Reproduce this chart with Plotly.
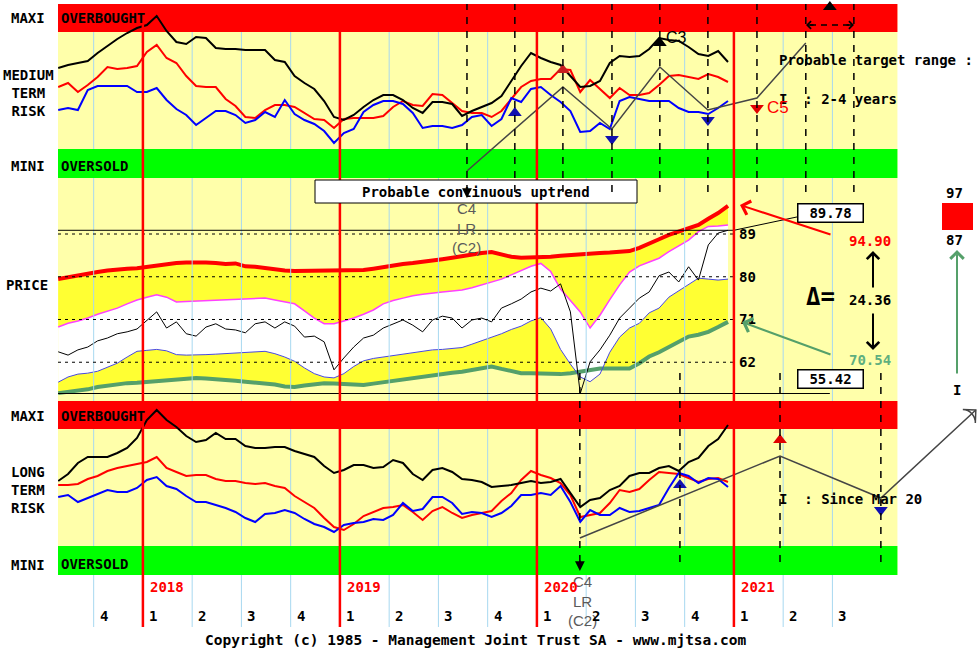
import numpy as np
import plotly.graph_objects as go

# ---------------- DATA ----------------
# time grid (decimal years)
grid_start = 2017.57
grid_step = 0.05
t = np.round(grid_start + grid_step * np.arange(69), 3)

# Medium term risk (arbitrary risk units, 0 = bottom of panel)
medium_black = [110,113,115,117,125,132,139,145,150,153,162,147,136,134,141,140,130,129,129,128,
                128,128,118,116,102,95,89,77,61,58,63,71,78,83,83,78,70,65,76,76,
                74,62,67,71,75,82,97,112,125,120,116,113,102,91,92,97,115,122,121,122,
                129,140,138,137,131,124,122,127,116]
medium_red = [91,95,86,93,101,111,109,110,112,126,133,120,115,102,92,91,91,79,72,61,
              60,68,73,73,71,65,59,58,50,59,60,60,60,62,71,77,73,72,84,83,
              75,67,65,65,61,67,79,91,97,99,99,109,108,86,98,89,80,90,83,83,
              85,93,102,103,101,99,104,101,96]
medium_blue = [68,70,68,88,92,92,92,92,86,86,90,78,69,63,53,60,67,67,63,55,
               58,66,61,78,64,58,54,47,35,45,49,66,73,77,77,74,65,50,52,52,
               50,53,61,63,52,59,80,76,89,91,83,76,67,46,47,55,49,77,81,79,
               77,77,77,70,66,66,64,70,77]

# Long term risk
long_black = [94,101,112,118,118,118,122,127,137,155,165,155,148,139,133,135,142,136,136,129,
              127,127,128,128,124,121,118,109,102,105,110,110,107,108,115,112,101,95,105,107,
              103,96,95,93,88,89,90,92,94,92,93,96,82,68,75,77,85,89,99,102,
              102,107,109,104,113,117,129,136,150]
long_red = [90,90,91,96,99,104,107,109,111,113,118,107,103,99,100,100,96,94,94,92,
            91,92,89,87,79,73,67,57,48,45,51,59,63,67,68,70,63,55,64,68,
            62,57,60,62,64,74,82,95,104,100,97,92,80,58,60,62,72,85,83,86,
            95,103,102,101,97,93,96,97,93]
long_blue = [78,80,73,77,81,85,83,83,87,95,98,89,86,79,73,73,70,67,63,57,
             53,61,62,65,62,56,51,48,43,50,52,53,56,55,60,72,64,66,78,78,
             72,61,63,62,58,62,69,80,80,82,80,89,73,53,65,60,60,67,63,64,
             67,70,87,102,99,92,97,96,88]

# Price panel
price = [64.2,63.5,64.6,65.2,66.5,67.1,68.0,68.4,69.0,70.9,72.6,69.2,70.5,68.0,67.5,69.4,70.1,69.0,68.8,68.2,
         70.1,70.5,69.2,70.5,69.6,67.3,67.5,66.3,60.4,62.9,65.2,67.1,67.7,69.2,70.1,70.9,69.8,68.4,70.9,71.7,
         71.3,69.2,70.9,71.3,70.5,73.4,74.3,75.3,76.8,77.6,77.0,78.5,72.6,55.42,62.1,64.6,67.7,71.3,73.4,75.5,
         76.8,80.2,81.0,78.9,82.1,79.3,86.7,89.2,89.78]
band_upper = [79.5,79.9,80.4,80.7,81.0,81.3,81.6,81.7,81.8,82.1,82.3,82.6,82.9,83.0,83.1,83.0,82.9,82.7,82.8,82.2,
              82.1,81.8,81.5,81.3,81.2,81.2,81.2,81.2,81.2,81.3,81.4,81.4,81.7,82.1,82.4,82.7,82.9,83.1,83.4,83.7,
              84.0,84.4,84.6,85.0,85.2,84.7,84.2,84.0,84.0,84.0,84.2,84.4,84.6,84.7,84.9,85.0,85.1,85.3,85.4,86.1,
              86.9,87.9,88.8,89.5,90.3,90.9,92.2,93.4,94.9]
band_mid_hi = [69.4,70.2,70.7,71.3,72.1,72.8,73.4,74.3,75.1,75.7,76.2,75.7,74.7,74.8,74.9,75.0,75.1,75.2,75.3,75.4,
               75.5,75.5,75.1,74.7,74.3,72.8,71.3,70.1,70.1,70.7,71.3,72.1,73.0,74.3,75.0,75.5,76.0,76.3,76.6,76.8,
               77.0,77.2,77.7,78.3,78.8,79.5,80.4,81.3,82.2,82.8,81.1,77.4,75.1,72.6,69.2,71.9,75.2,78.3,81.0,82.3,
               83.1,83.9,85.3,86.5,87.7,89.5,90.6,90.7,90.9]
band_mid_lo = [57.8,58.9,59.5,59.7,60.1,61.0,61.8,63.1,64.3,64.5,64.7,64.4,63.6,63.5,63.5,63.6,63.7,63.8,64.0,64.1,
               64.2,64.3,63.8,63.1,62.2,60.8,59.6,58.9,58.7,59.6,61.1,62.3,62.8,63.1,63.3,63.6,64.0,64.3,64.6,64.7,
               64.9,65.1,65.8,66.5,67.3,68.0,68.9,69.6,70.7,71.4,69.0,64.7,61.6,58.9,57.9,59.5,64.1,67.3,69.2,70.2,
               72.4,73.4,75.7,77.0,78.4,79.7,79.5,79.3,79.5]
band_lower = [55.5,55.7,55.9,56.3,56.8,57.1,57.4,57.6,57.7,57.9,58.1,58.3,58.5,58.6,58.7,58.6,58.5,58.3,58.1,57.9,
              57.7,57.6,57.3,56.9,56.8,57.1,57.4,57.6,57.5,57.4,57.3,57.2,57.5,57.8,58.1,58.5,58.8,59.1,59.3,59.6,
              59.8,60.0,60.3,60.6,61.1,60.6,60.1,59.7,59.7,59.6,59.6,59.5,59.7,60.1,60.4,60.7,60.7,60.7,60.7,61.8,
              63.2,64.1,65.2,66.5,67.4,67.8,68.4,69.4,70.5]

price_levels = [62, 71, 80, 89]
last_price = 89.78
min_price = 55.42
target_high = "94.90"
target_low = "70.54"
target_delta = "24.36"
scale_high = "97"
scale_low = "87"

# cycles
medium_cycles = [2019.645, 2019.888, 2020.132, 2020.381, 2020.624, 2020.868, 2021.117, 2021.365, 2021.609]
medium_zig_x = [2019.645, 2020.132, 2020.381, 2020.624, 2020.868, 2021.117, 2021.365]
medium_zig_y = [7, 91, 49, 111, 68, 80, 135]
medium_mark_x = [2019.888, 2020.132, 2020.381, 2020.624, 2020.868, 2021.117, 2021.487]
medium_mark_y = [65, 108, 39, 135, 58, 70, 171]
medium_mark_sym = ["triangle-up", "triangle-up", "triangle-down", "triangle-up", "triangle-down", "triangle-down", "triangle-up"]
medium_mark_col = ["#1010B0", "#C81E1E", "#1010B0", "#000000", "#1010B0", "#E00000", "#000000"]

long_cycles = [2020.218, 2020.726, 2021.234, 2021.746]
long_zig_x = [2020.218, 2021.234, 2021.746, 2022.228]
long_zig_y = [37, 119, 77, 165]
long_mark_x = [2020.726, 2021.234, 2021.746]
long_mark_y = [90, 135, 65]
long_mark_sym = ["triangle-up", "triangle-up", "triangle-down"]
long_mark_col = ["#1010B0", "#E00000", "#1010B0"]

years = [2018, 2019, 2020, 2021]
quarter_starts = [2017.75, 2018.0, 2018.25, 2018.5, 2018.75, 2019.0, 2019.25, 2019.5, 2019.75,
                  2020.0, 2020.25, 2020.5, 2020.75, 2021.0, 2021.25, 2021.5]
quarter_labels = ["4", "1", "2", "3", "4", "1", "2", "3", "4", "1", "2", "3", "4", "1", "2", "3"]

# ---------------- LAYOUT ----------------
W, H = 979, 652
ML, MR, MT, MB = 58, 0, 4, 77
PW, PH = W - ML - MR, H - MT - MB
X_MIN, X_MAX = 2017.569, 2017.569 + PW / 197.0
WINDOW_END = 2021.83
OB, OS, RTOP = 146, 29, 174
P_MIN, P_MAX = 53.84, 100.79


def px(xp):
    return (xp - ML) / PW


def py(yp):
    return (H - MB - yp) / PH


PALE = "#FFFFAA"
YELLOW = "#FFFF33"
RED = "#FF0000"
LIME = "#00FF00"
GRID = "#A8D8F0"
SEA = "#55A06A"
MONO = "DejaVu Sans Mono"
SANS = "Liberation Sans"

fig = go.Figure()


def line(x, y, yaxis, color, width, **kw):
    fig.add_trace(go.Scatter(x=x, y=y, yaxis=yaxis, mode="lines", line=dict(color=color, width=width),
                             hoverinfo="skip", showlegend=False, **kw))


# top panel
line(t, medium_red, "y", RED, 2)
line(t, medium_blue, "y", "#0000FF", 2)
line(t, medium_black, "y", "black", 2)
line(medium_zig_x, medium_zig_y, "y", "#454545", 1.5)
fig.add_trace(go.Scatter(x=medium_mark_x, y=medium_mark_y, yaxis="y", mode="markers", cliponaxis=False,
                         marker=dict(symbol=medium_mark_sym, color=medium_mark_col, size=12),
                         hoverinfo="skip", showlegend=False))

# price panel fills
line(t, band_lower, "y2", "rgba(0,0,0,0)", 0)
line(t, band_mid_lo, "y2", "rgba(0,0,0,0)", 0, fill="tonexty", fillcolor=YELLOW)
line(t, band_mid_hi, "y2", "rgba(0,0,0,0)", 0, fill="tonexty", fillcolor="white")
line(t, band_upper, "y2", "rgba(0,0,0,0)", 0, fill="tonexty", fillcolor=YELLOW)
line(t, band_lower, "y2", SEA, 4)
line(t, band_mid_lo, "y2", "#4848E0", 1)
line(t, band_mid_hi, "y2", "#FF40FF", 1.5)
line(t, band_upper, "y2", RED, 4)
line(t, price, "y2", "black", 1)

# bottom panel
line(t, long_red, "y3", RED, 2)
line(t, long_blue, "y3", "#0000FF", 2)
line(t, long_black, "y3", "black", 2)
line(long_zig_x, long_zig_y, "y3", "#454545", 1.5)
fig.add_trace(go.Scatter(x=long_mark_x, y=long_mark_y, yaxis="y3", mode="markers", cliponaxis=False,
                         marker=dict(symbol=long_mark_sym, color=long_mark_col, size=12),
                         hoverinfo="skip", showlegend=False))
fig.add_trace(go.Scatter(x=long_zig_x[-2:], y=long_zig_y[-2:], yaxis="y3", mode="markers", cliponaxis=False,
                         marker=dict(symbol=["circle", "arrow-wide-open"], size=[1, 13], opacity=[0, 1],
                                     angleref="previous", color="#454545", line=dict(color="#303030", width=1.5)),
                         hoverinfo="skip", showlegend=False))

# ---------------- SHAPES ----------------
shapes = []


def rect(x0, x1, y0, y1, xref, yref, color, layer="below", lc=None, lw=0):
    shapes.append(dict(type="rect", xref=xref, yref=yref, x0=x0, x1=x1, y0=y0, y1=y1, fillcolor=color,
                       line=dict(width=lw, color=lc or color), layer=layer))


def seg(x0, x1, y0, y1, xref, yref, color, width=1, dash="solid", layer="above"):
    shapes.append(dict(type="line", xref=xref, yref=yref, x0=x0, x1=x1, y0=y0, y1=y1,
                       line=dict(color=color, width=width, dash=dash), layer=layer))


rect(X_MIN, WINDOW_END, 0, 1, "x", "paper", PALE)
for ya in ("y", "y3"):
    rect(X_MIN, WINDOW_END, OB, RTOP, "x", ya, RED)
    rect(X_MIN, WINDOW_END, 0, OS, "x", ya, LIME)

for q in quarter_starts:
    if q % 1 == 0:
        continue
    seg(q, q, OS, OB, "x", "y", GRID, 1, layer="below")
    seg(q, q, OS, OB, "x", "y3", GRID, 1, layer="below")
    seg(q, q, P_MIN, P_MAX, "x", "y2", GRID, 1)
    seg(q, q, py(627), 0, "x", "paper", GRID, 1)

for lv in price_levels:
    seg(X_MIN, 2021.0, lv, lv, "x", "y2", "black", 1, dash="3px,4px")
seg(X_MIN, 2021.0, last_price, last_price, "x", "y2", "black", 1)
seg(2021.0, 2021.487, last_price, 94.05, "x", "y2", "black", 1)
seg(X_MIN, 2021.487, min_price, min_price, "x", "y2", "black", 1)

for yv in years:
    seg(yv, yv, py(627), 1, "x", "paper", RED, 2.5)

# uptrend box (below the cycle lines)
rect(px(315), px(637), py(203), py(180), "paper", "paper", "white", layer="above", lc="black", lw=1)

for c in medium_cycles:
    seg(c, c, py(192), 1, "x", "paper", "black", 1.5, dash="7px,7px")
for c in long_cycles:
    seg(c, c, py(562), py(372), "x", "paper", "black", 1.5, dash="7px,7px")

seg(px(810), px(850), py(25), py(25), "paper", "paper", "black", 1.5, dash="6px,5px")
rect(px(942), px(973), py(230), py(203), "paper", "paper", RED, layer="above")

# ---------------- ANNOTATIONS ----------------
ann = []


def label(text, x, y, xref="paper", yref="paper", size=14, color="black", xanchor="center",
          family=MONO, bold=True, **kw):
    ann.append(dict(text=text, x=x, y=y, xref=xref, yref=yref, showarrow=False, xanchor=xanchor,
                    yanchor="middle", font=dict(family=family, size=size, color=color,
                                                weight="bold" if bold else "normal"), **kw))


def arrow(x, y, ax, ay, color, width=2, head=4, size=1.2, xref="paper", yref="paper"):
    ann.append(dict(text="", x=x, y=y, xref=xref, yref=yref, ax=ax, ay=ay, showarrow=True,
                    arrowhead=head, arrowsize=size, arrowwidth=width, arrowcolor=color))


LX = px(28)
label("MAXI", LX, py(18))
label("MEDIUM<br>TERM<br>RISK", LX, py(93))
label("MINI", LX, py(166))
label("PRICE", px(27), py(285))
label("MAXI", LX, py(416))
label("LONG<br>TERM<br>RISK", LX, py(490))
label("MINI", LX, py(565))

label("OVERBOUGHT", px(59), py(18), xanchor="left")
label("OVERSOLD", px(59), py(166), xanchor="left")
label("OVERBOUGHT", px(59), py(416), xanchor="left")
label("OVERSOLD", px(59), py(564), xanchor="left")

for lv in price_levels:
    label(str(lv), px(737), lv, yref="y2", xanchor="left")

label("Probable continuous uptrend", px(476), py(192))
label("Probable target range :", px(777), py(60), xanchor="left")
label("I\u00a0\u00a0:\u00a02-4 years", px(777), py(99), xanchor="left")
label("I\u00a0\u00a0:\u00a0Since Mar 20", px(777), py(499), xanchor="left")

label("C4<br>LR<br>(C2)", medium_cycles[0], py(228), xref="x", size=15, color="#5A5A5A", family=SANS, bold=False)
label("C4<br>LR<br>(C2)", long_cycles[0] + 0.015, py(601), xref="x", size=15, color="#5A5A5A", family=SANS, bold=False)
label("C3", px(664), py(38), xanchor="left", size=16, family=SANS, bold=False)
label("C5", px(765), py(108), xanchor="left", size=17, color=RED, family=SANS, bold=False)

arrow(medium_cycles[0], py(198), 0, -12, "black", 1.5, 2, 1.3, xref="x")
arrow(long_cycles[0], py(571), 0, -12, "black", 1.5, 2, 1.3, xref="x")
arrow(px(806), py(25), 9, 0, "black", 1.5, 4, 1.0)
arrow(px(854), py(25), -9, 0, "black", 1.5, 4, 1.0)

ann.append(dict(text=f"{last_price:.2f}", x=px(863.5), y=py(212.5), xref="paper", yref="paper", showarrow=False,
                width=62, height=15, bgcolor="white", bordercolor="black", borderwidth=1.5, borderpad=1,
                font=dict(family=MONO, size=14, color="black", weight="bold")))
ann.append(dict(text=f"{min_price:.2f}", x=px(863.5), y=py(389), xref="paper", yref="paper", showarrow=False,
                width=62, height=15, bgcolor="white", bordercolor="black", borderwidth=1.5, borderpad=1,
                font=dict(family=MONO, size=14, color="black", weight="bold")))

label(target_high, px(870), py(241), color=RED)
label(target_low, px(870), py(360), color="#5FAF7F")
label(target_delta, px(870), py(300))
label("\u0394=", px(820), py(297), size=24)
arrow(px(740), py(205), 92, 30, RED, 2, 4, 1.4)
arrow(px(742), py(322), 90, 33, SEA, 2, 4, 1.4)
arrow(px(873), py(251), 0, 38, "black", 2, 4, 1.2)
arrow(px(873), py(350), 0, -38, "black", 2, 4, 1.2)

label(scale_high, px(954), py(193))
label(scale_low, px(954), py(240))
arrow(px(957), py(250), 0, 125, SEA, 2, 4, 1.3)
label("I", px(957), py(390))

for yv in years:
    label(str(yv), yv + 0.025, py(587), xref="x", xanchor="left", color=RED)
for q, ql in zip(quarter_starts, quarter_labels):
    label(ql, q + 0.05, py(616), xref="x")
label("Copyright (c) 1985 - Management Joint Trust SA - www.mjtsa.com", px(476), py(640), size=14.5)

fig.update_layout(
    width=W, height=H, margin=dict(l=ML, r=MR, t=MT, b=MB, pad=0),
    paper_bgcolor="white", plot_bgcolor="white", showlegend=False,
    xaxis=dict(range=[X_MIN, X_MAX], visible=False, fixedrange=True, anchor="y3"),
    yaxis=dict(domain=[py(178), 1], range=[0, RTOP], visible=False, fixedrange=True),
    yaxis2=dict(domain=[py(401), py(178)], range=[P_MIN, P_MAX], visible=False, fixedrange=True),
    yaxis3=dict(domain=[0, py(401)], range=[0, RTOP], visible=False, fixedrange=True),
    shapes=shapes, annotations=ann, hovermode=False,
)

fig.write_html("out.html")
